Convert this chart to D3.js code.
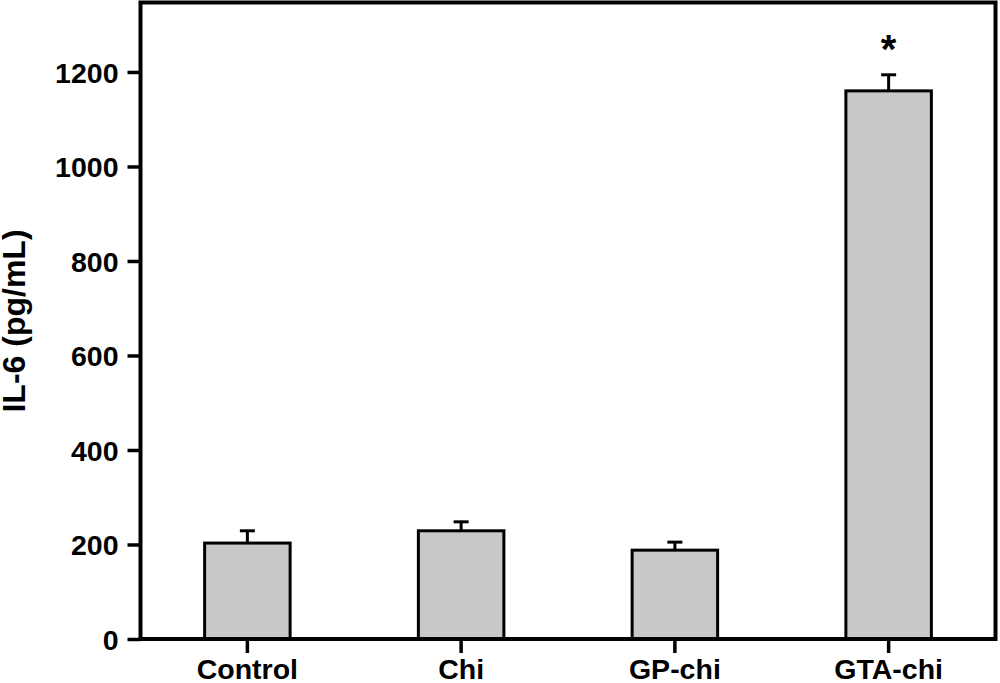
<!DOCTYPE html>
<html>
<head>
<meta charset="utf-8">
<script src="https://cdn.jsdelivr.net/npm/d3@7"></script>
<style>
  html, body { margin: 0; padding: 0; background: #fff; }
  svg { display: block; }
  text { font-family: "Liberation Sans", Arial, sans-serif; font-weight: bold; fill: #000; }
</style>
</head>
<body>
<svg id="chart" width="1000" height="683"></svg>
<script>
const categories = ["Control", "Chi", "GP-chi", "GTA-chi"];
const means = [203, 229, 188, 1160];
const errors = [26, 19, 17, 34];
const significant = [false, false, false, true];
const yTicks = [0, 200, 400, 600, 800, 1000, 1200];
const yLabel = "IL-6 (pg/mL)";

const svg = d3.select("#chart");
const plotL = 140.5, plotR = 995.5, plotT = 2.5, plotB = 639;

const x = d3.scaleBand().domain(categories).range([plotL, plotR]).paddingInner(0.6).paddingOuter(0.3);
const y = d3.scaleLinear().domain([0, 1347]).range([plotB, plotT]);

// bars
svg.append("g").selectAll("rect").data(categories).join("rect")
  .attr("x", d => x(d))
  .attr("y", (d, i) => y(means[i]))
  .attr("width", x.bandwidth())
  .attr("height", (d, i) => y(0) - y(means[i]))
  .attr("fill", "#c8c8c8")
  .attr("stroke", "#000")
  .attr("stroke-width", 3);

// error bars (upper only)
const eg = svg.append("g").attr("stroke", "#000").attr("stroke-width", 3);
categories.forEach((c, i) => {
  const cx = x(c) + x.bandwidth() / 2;
  eg.append("line").attr("x1", cx).attr("x2", cx).attr("y1", y(means[i])).attr("y2", y(means[i] + errors[i]));
  eg.append("line").attr("x1", cx - 7.5).attr("x2", cx + 7.5).attr("y1", y(means[i] + errors[i])).attr("y2", y(means[i] + errors[i]));
});

// significance marks
categories.forEach((c, i) => {
  if (!significant[i]) return;
  svg.append("text")
    .attr("x", x(c) + x.bandwidth() / 2)
    .attr("y", y(means[i] + errors[i]) - 12)
    .attr("text-anchor", "middle")
    .attr("font-size", 40)
    .text("*");
});

// frame
svg.append("rect")
  .attr("x", plotL).attr("y", plotT)
  .attr("width", plotR - plotL).attr("height", plotB - plotT)
  .attr("fill", "none").attr("stroke", "#000").attr("stroke-width", 4);

// y axis
const yAxis = d3.axisLeft(y).tickValues(yTicks).tickSize(13).tickPadding(9).tickFormat(d3.format("d"));
const ya = svg.append("g").attr("transform", `translate(${plotL},0)`).call(yAxis);
ya.select(".domain").remove();
ya.selectAll(".tick line").attr("stroke", "#000").attr("stroke-width", 3.5);
ya.selectAll(".tick text").attr("font-size", 28.5).attr("font-family", "Liberation Sans, Arial, sans-serif").attr("font-weight", "bold").attr("dy", "0.36em");

// x axis
const xAxis = d3.axisBottom(x).tickSize(14).tickPadding(6);
const xa = svg.append("g").attr("transform", `translate(0,${plotB})`).call(xAxis);
xa.select(".domain").remove();
xa.selectAll(".tick line").attr("stroke", "#000").attr("stroke-width", 3.5);
xa.selectAll(".tick text").attr("font-size", 28.5).attr("font-family", "Liberation Sans, Arial, sans-serif").attr("font-weight", "bold").attr("dy", "0.71em");

// y label
svg.append("text")
  .attr("transform", `translate(25,321) rotate(-90)`)
  .attr("text-anchor", "middle")
  .attr("font-size", 32)
  .text(yLabel);
</script>
</body>
</html>
